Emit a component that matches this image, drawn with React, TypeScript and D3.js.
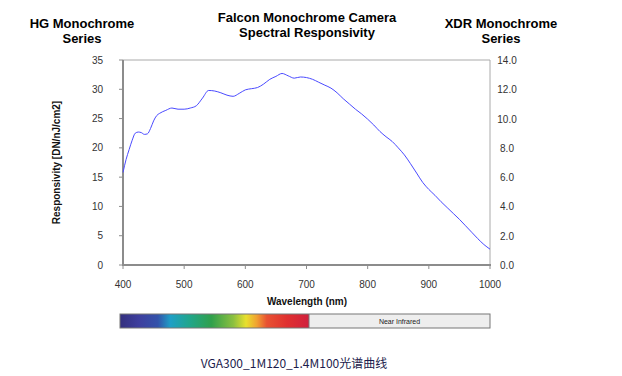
import React from "react";
import * as d3 from "d3";

const wavelengths = [400,405,410,415,420,425,430,435,440,445,450,455,460,470,480,490,500,510,520,530,540,550,560,570,580,590,600,610,620,630,640,650,660,670,680,690,700,710,720,730,740,750,760,770,780,790,800,810,820,830,840,850,860,870,880,890,900,910,920,930,940,950,960,970,980,990,1000];
const responsivity = [15.8,18.0,19.7,21.3,22.5,22.7,22.6,22.3,22.4,23.3,24.6,25.5,25.9,26.4,26.8,26.6,26.6,26.8,27.2,28.5,29.8,29.7,29.4,29.0,28.8,29.3,29.9,30.1,30.3,30.9,31.7,32.2,32.7,32.3,31.9,32.1,32.0,31.7,31.2,30.7,30.2,29.4,28.4,27.5,26.6,25.8,24.9,23.9,22.8,21.9,21.1,20.0,18.8,17.3,15.7,14.1,12.9,11.9,10.8,9.8,8.8,7.8,6.7,5.6,4.5,3.5,2.7];
const xTicks = [400,500,600,700,800,900,1000];
const leftTicks = [0,5,10,15,20,25,30,35];
const rightTicks = [0,2,4,6,8,10,12,14];
const spectrumStops = [
  { nm: 400, color: "#34307e" },
  { nm: 430, color: "#3e3f9e" },
  { nm: 460, color: "#3352aa" },
  { nm: 480, color: "#1f9fc6" },
  { nm: 510, color: "#20a68c" },
  { nm: 545, color: "#30a04c" },
  { nm: 580, color: "#8cc040" },
  { nm: 600, color: "#e8e02e" },
  { nm: 617, color: "#f0a232" },
  { nm: 633, color: "#e85232" },
  { nm: 665, color: "#e03030" },
  { nm: 700, color: "#d0203e" },
];

const W = 622, H = 376;
const left = 123, right = 490, top = 60, bottom = 265;

export default function App() {
  const x = d3.scaleLinear().domain([400, 1000]).range([left, right]);
  const yL = d3.scaleLinear().domain([0, 35]).range([bottom, top]);
  const yR = d3.scaleLinear().domain([0, 14]).range([bottom, top]);
  const line = d3.line<number>().x((_, i) => x(wavelengths[i])).y((d) => yL(d)).curve(d3.curveMonotoneX);
  const barX = d3.scaleLinear().domain([400, 700, 1000]).range([120, 309, 490]);
  const barTop = 314, barH = 14;
  const font = "'Liberation Sans', Arial, sans-serif";
  return (
    <svg width={W} height={H} style={{ position: "absolute", left: 0, top: 0, background: "#fff" }} fontFamily={font}>
      <defs>
        <linearGradient id="spec" x1="0" x2="1" y1="0" y2="0">
          {spectrumStops.map((s, i) => (
            <stop key={i} offset={(s.nm - 400) / 300} stopColor={s.color} />
          ))}
        </linearGradient>
      </defs>
      <text x={82} y={28} textAnchor="middle" fontWeight="bold" fontSize={13} fill="#000">HG Monochrome</text>
      <text x={82} y={43} textAnchor="middle" fontWeight="bold" fontSize={13} fill="#000">Series</text>
      <text x={307} y={22} textAnchor="middle" fontWeight="bold" fontSize={13} fill="#000">Falcon Monochrome Camera</text>
      <text x={307} y={37} textAnchor="middle" fontWeight="bold" fontSize={13} fill="#000">Spectral Responsivity</text>
      <text x={501} y={28} textAnchor="middle" fontWeight="bold" fontSize={13} fill="#000">XDR Monochrome</text>
      <text x={501} y={43} textAnchor="middle" fontWeight="bold" fontSize={13} fill="#000">Series</text>

      {/* frame */}
      <line x1={left} x2={right} y1={top} y2={top} stroke="#aaa" strokeWidth={1} />
      <line x1={right} x2={right} y1={top} y2={bottom} stroke="#aaa" strokeWidth={1} />
      <line x1={left} x2={left} y1={top} y2={bottom + 1} stroke="#8c8c8c" strokeWidth={2} />
      <line x1={left - 1} x2={right + 1} y1={bottom} y2={bottom} stroke="#8c8c8c" strokeWidth={2} />

      {leftTicks.map((t) => (
        <g key={"l" + t}>
          <line x1={left - 4} x2={left} y1={yL(t)} y2={yL(t)} stroke="#8c8c8c" />
          <text x={103} y={yL(t) + 3.5} textAnchor="end" fontSize={10} fill="#333">{t}</text>
        </g>
      ))}
      {rightTicks.map((t) => (
        <text key={"r" + t} x={507} y={yR(t) + 4} textAnchor="middle" fontSize={10} fill="#333">{t.toFixed(1)}</text>
      ))}
      {xTicks.map((t) => (
        <g key={"x" + t}>
          <line x1={x(t)} x2={x(t)} y1={bottom} y2={bottom + 4} stroke="#8c8c8c" />
          <text x={x(t)} y={288} textAnchor="middle" fontSize={10} fill="#333">{t}</text>
        </g>
      ))}

      <text x={307} y={305} textAnchor="middle" fontWeight="bold" fontSize={10} fill="#111">Wavelength (nm)</text>
      <text transform={`translate(60,${(top + bottom) / 2}) rotate(-90)`} textAnchor="middle" fontWeight="bold" fontSize={10} fill="#111">Responsivity [DN/nJ/cm2]</text>

      <path d={line(responsivity) || ""} fill="none" stroke="#4a4aff" strokeWidth={1} />

      {/* spectrum bar */}
      <rect x={barX(400)} y={barTop} width={barX(700) - barX(400)} height={barH} fill="url(#spec)" />
      <rect x={barX(700)} y={barTop} width={barX(1000) - barX(700)} height={barH} fill="#eeeeee" />
      <rect x={barX(400)} y={barTop} width={barX(1000) - barX(400)} height={barH} fill="none" stroke="#777" strokeWidth={1} />
      <line x1={barX(700)} x2={barX(700)} y1={barTop} y2={barTop + barH} stroke="#777" />
      <text x={(barX(700) + barX(1000)) / 2} y={barTop + 10} textAnchor="middle" fontSize={7} fill="#222">Near Infrared</text>

      <text x={294} y={368} textAnchor="middle" fontSize={12} fill="#1c1c4c" fontFamily="'Noto Sans CJK SC', 'Liberation Sans', sans-serif">VGA300_1M120_1.4M100光谱曲线</text>
    </svg>
  );
}
